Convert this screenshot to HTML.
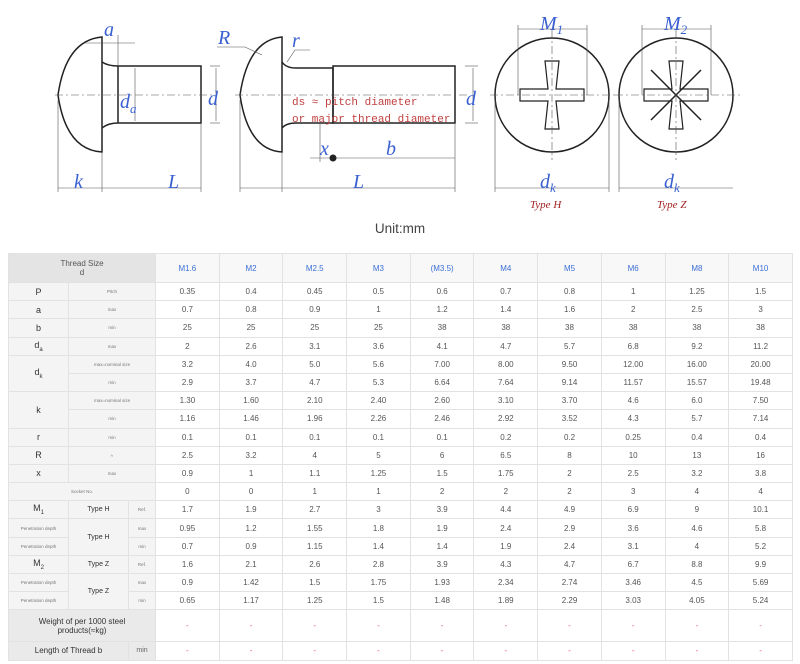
<!DOCTYPE html>
<html><head><meta charset="utf-8"><style>
body{margin:0;width:800px;height:664px;background:#fff;position:relative;overflow:hidden;font-family:"Liberation Sans",sans-serif}
svg{position:absolute;left:0;top:0}
.unit{position:absolute;top:221px;left:0;width:800px;text-align:center;font-size:13.5px;color:#444}
table{position:absolute;left:8px;top:253px;border-collapse:collapse;table-layout:fixed;width:784px;font-size:8px;color:#555}
tr{height:18.2px}
td{border:1px solid #e2e2e2;text-align:center;padding:0;white-space:nowrap;overflow:hidden}
td.l{background:#f4f4f4;color:#333;font-size:9px}
td.s{background:#f4f4f4;font-size:4.5px;color:#777}
td.h{background:#e4e4e4;color:#555;font-size:8px}
td.c{color:#3b6fd6;background:#f8f8f8;font-size:8px}
td.g{background:#eaeaea;color:#333;font-size:9px}
td.r{color:#e06070}
sub{font-size:6px}
</style></head><body>
<svg width="800" height="220" viewBox="0 0 800 220" font-family="Liberation Serif,serif">
<g fill="none" stroke="#222" stroke-width="1.5">
<path d="M102 37 Q66 40 58 95 Q66 150 102 152 Z"/>
<path d="M102 62 Q108 66 118 66 L201 66 L201 123 L118 123 Q108 123 102 128"/>
<line x1="118" y1="66" x2="118" y2="123"/>
<path d="M282 37 Q248 40 240 95 Q248 150 282 152 Z"/>
<path d="M282 62 Q286 68 296 68 L333 68 L333 123 L296 123 Q286 123 282 128"/>
<rect x="333" y="66" width="122" height="57"/>
<circle cx="552" cy="95" r="57"/><circle cx="676" cy="95" r="57"/>
<path d="M545 61 h14 l-3 28 h28 v12 h-28 l3 28 h-14 l3 -28 h-28 v-12 h28z" stroke-width="1.2"/>
<path d="M669 61 h14 l-3 28 h28 v12 h-28 l3 28 h-14 l3 -28 h-28 v-12 h28z" stroke-width="1.2"/>
</g>
<g stroke="#222" stroke-width="1.5"><line x1="651" y1="70" x2="701" y2="120"/><line x1="701" y1="70" x2="651" y2="120"/></g>
<g stroke="#555" stroke-width="0.6" stroke-dasharray="8 3 2 3">
<line x1="55" y1="95" x2="215" y2="95"/><line x1="235" y1="95" x2="470" y2="95"/>
<line x1="490" y1="95" x2="615" y2="95"/><line x1="615" y1="95" x2="740" y2="95"/>
<line x1="552" y1="30" x2="552" y2="160"/><line x1="676" y1="30" x2="676" y2="160"/>
</g>
<g stroke="#555" stroke-width="0.6" fill="none">
<line x1="58" y1="100" x2="58" y2="192"/><line x1="102" y1="152" x2="102" y2="192"/><line x1="201" y1="123" x2="201" y2="192"/>
<line x1="58" y1="188" x2="201" y2="188"/><line x1="240" y1="100" x2="240" y2="192"/><line x1="282" y1="152" x2="282" y2="192"/><line x1="455" y1="123" x2="455" y2="192"/>
<line x1="240" y1="188" x2="455" y2="188"/><line x1="310" y1="158" x2="455" y2="158"/><line x1="320" y1="123" x2="320" y2="162"/>
<line x1="210" y1="66" x2="220" y2="66"/><line x1="210" y1="123" x2="220" y2="123"/><line x1="216" y1="68" x2="216" y2="121"/>
<line x1="465" y1="66" x2="478" y2="66"/><line x1="465" y1="123" x2="478" y2="123"/><line x1="473" y1="68" x2="473" y2="121"/>
<line x1="118" y1="35" x2="118" y2="66"/><line x1="85" y1="43" x2="135" y2="43"/><line x1="135" y1="68" x2="135" y2="121"/>
<line x1="518" y1="25" x2="518" y2="95"/><line x1="587" y1="25" x2="587" y2="95"/><line x1="518" y1="29" x2="587" y2="29"/>
<line x1="642" y1="25" x2="642" y2="95"/><line x1="711" y1="25" x2="711" y2="95"/><line x1="642" y1="29" x2="711" y2="29"/>
<line x1="495" y1="100" x2="495" y2="192"/><line x1="609" y1="100" x2="609" y2="192"/><line x1="495" y1="188" x2="609" y2="188"/>
<line x1="619" y1="100" x2="619" y2="192"/><line x1="619" y1="188" x2="733" y2="188"/>
<path d="M217 47 L245 47 L262 55"/><path d="M287 62 L295 50 L310 50"/>
</g>
<circle cx="333" cy="158" r="3.5" fill="#222"/>
<g fill="#3a5fd0" font-style="italic" font-size="20">
<text x="104" y="36">a</text><text x="120" y="108">d<tspan font-size="13" dy="5">a</tspan></text>
<text x="208" y="105">d</text><text x="74" y="188">k</text><text x="168" y="188">L</text>
<text x="218" y="44">R</text><text x="292" y="47">r</text><text x="466" y="105">d</text>
<text x="320" y="155">x</text><text x="386" y="155">b</text><text x="353" y="188">L</text>
<text x="540" y="30">M<tspan font-size="13" dy="4">1</tspan></text><text x="664" y="30">M<tspan font-size="13" dy="4">2</tspan></text>
<text x="540" y="188">d<tspan font-size="13" dy="4">k</tspan></text><text x="664" y="188">d<tspan font-size="13" dy="4">k</tspan></text>
</g>
<g fill="#c04040" font-family="Liberation Mono,monospace" font-size="11">
<text x="292" y="105">ds ≈ pitch diameter</text><text x="292" y="122">or major thread diameter</text></g>
<g fill="#a02020" font-style="italic" font-size="11"><text x="530" y="208">Type H</text><text x="657" y="208">Type Z</text></g>
</svg>
<div class="unit">Unit:mm</div>
<table>
<colgroup><col style="width:60px"><col style="width:60px"><col style="width:27px"><col span="10" style="width:63.7px"></colgroup>
<tr style="height:29px"><td class="h" colspan="3">Thread Size<br>d</td><td class="c">M1.6</td><td class="c">M2</td><td class="c">M2.5</td><td class="c">M3</td><td class="c">(M3.5)</td><td class="c">M4</td><td class="c">M5</td><td class="c">M6</td><td class="c">M8</td><td class="c">M10</td></tr>
<tr><td class="l">P</td><td class="s" colspan="2">Pitch</td><td>0.35</td><td>0.4</td><td>0.45</td><td>0.5</td><td>0.6</td><td>0.7</td><td>0.8</td><td>1</td><td>1.25</td><td>1.5</td></tr>
<tr><td class="l">a</td><td class="s" colspan="2">max</td><td>0.7</td><td>0.8</td><td>0.9</td><td>1</td><td>1.2</td><td>1.4</td><td>1.6</td><td>2</td><td>2.5</td><td>3</td></tr>
<tr><td class="l">b</td><td class="s" colspan="2">min</td><td>25</td><td>25</td><td>25</td><td>25</td><td>38</td><td>38</td><td>38</td><td>38</td><td>38</td><td>38</td></tr>
<tr><td class="l">d<sub>a</sub></td><td class="s" colspan="2">max</td><td>2</td><td>2.6</td><td>3.1</td><td>3.6</td><td>4.1</td><td>4.7</td><td>5.7</td><td>6.8</td><td>9.2</td><td>11.2</td></tr>
<tr><td class="l" rowspan="2">d<sub>k</sub></td><td class="s" colspan="2">max=nominal size</td><td>3.2</td><td>4.0</td><td>5.0</td><td>5.6</td><td>7.00</td><td>8.00</td><td>9.50</td><td>12.00</td><td>16.00</td><td>20.00</td></tr>
<tr><td class="s" colspan="2">min</td><td>2.9</td><td>3.7</td><td>4.7</td><td>5.3</td><td>6.64</td><td>7.64</td><td>9.14</td><td>11.57</td><td>15.57</td><td>19.48</td></tr>
<tr><td class="l" rowspan="2">k</td><td class="s" colspan="2">max=nominal size</td><td>1.30</td><td>1.60</td><td>2.10</td><td>2.40</td><td>2.60</td><td>3.10</td><td>3.70</td><td>4.6</td><td>6.0</td><td>7.50</td></tr>
<tr><td class="s" colspan="2">min</td><td>1.16</td><td>1.46</td><td>1.96</td><td>2.26</td><td>2.46</td><td>2.92</td><td>3.52</td><td>4.3</td><td>5.7</td><td>7.14</td></tr>
<tr><td class="l">r</td><td class="s" colspan="2">min</td><td>0.1</td><td>0.1</td><td>0.1</td><td>0.1</td><td>0.1</td><td>0.2</td><td>0.2</td><td>0.25</td><td>0.4</td><td>0.4</td></tr>
<tr><td class="l">R</td><td class="s" colspan="2">≈</td><td>2.5</td><td>3.2</td><td>4</td><td>5</td><td>6</td><td>6.5</td><td>8</td><td>10</td><td>13</td><td>16</td></tr>
<tr><td class="l">x</td><td class="s" colspan="2">max</td><td>0.9</td><td>1</td><td>1.1</td><td>1.25</td><td>1.5</td><td>1.75</td><td>2</td><td>2.5</td><td>3.2</td><td>3.8</td></tr>
<tr><td class="s" colspan="3">Socket No.</td><td>0</td><td>0</td><td>1</td><td>1</td><td>2</td><td>2</td><td>2</td><td>3</td><td>4</td><td>4</td></tr>
<tr><td class="l">M<sub>1</sub></td><td class="l" style="font-size:7px">Type H</td><td class="s">Ref.</td><td>1.7</td><td>1.9</td><td>2.7</td><td>3</td><td>3.9</td><td>4.4</td><td>4.9</td><td>6.9</td><td>9</td><td>10.1</td></tr>
<tr><td class="s">Penetration depth</td><td class="l" rowspan="2" style="font-size:7px">Type H</td><td class="s">max</td><td>0.95</td><td>1.2</td><td>1.55</td><td>1.8</td><td>1.9</td><td>2.4</td><td>2.9</td><td>3.6</td><td>4.6</td><td>5.8</td></tr>
<tr><td class="s">Penetration depth</td><td class="s">min</td><td>0.7</td><td>0.9</td><td>1.15</td><td>1.4</td><td>1.4</td><td>1.9</td><td>2.4</td><td>3.1</td><td>4</td><td>5.2</td></tr>
<tr><td class="l">M<sub>2</sub></td><td class="l" style="font-size:7px">Type Z</td><td class="s">Ref.</td><td>1.6</td><td>2.1</td><td>2.6</td><td>2.8</td><td>3.9</td><td>4.3</td><td>4.7</td><td>6.7</td><td>8.8</td><td>9.9</td></tr>
<tr><td class="s">Penetration depth</td><td class="l" rowspan="2" style="font-size:7px">Type Z</td><td class="s">max</td><td>0.9</td><td>1.42</td><td>1.5</td><td>1.75</td><td>1.93</td><td>2.34</td><td>2.74</td><td>3.46</td><td>4.5</td><td>5.69</td></tr>
<tr><td class="s">Penetration depth</td><td class="s">min</td><td>0.65</td><td>1.17</td><td>1.25</td><td>1.5</td><td>1.48</td><td>1.89</td><td>2.29</td><td>3.03</td><td>4.05</td><td>5.24</td></tr>
<tr style="height:32px"><td class="g" colspan="3" style="white-space:normal;font-size:8px">Weight of per 1000 steel<br>products(≈kg)</td><td class="r">-</td><td class="r">-</td><td class="r">-</td><td class="r">-</td><td class="r">-</td><td class="r">-</td><td class="r">-</td><td class="r">-</td><td class="r">-</td><td class="r">-</td></tr>
<tr><td class="g" colspan="2" style="font-size:8px">Length of Thread b</td><td class="g" style="font-size:7px;color:#666">min</td><td class="r">-</td><td class="r">-</td><td class="r">-</td><td class="r">-</td><td class="r">-</td><td class="r">-</td><td class="r">-</td><td class="r">-</td><td class="r">-</td><td class="r">-</td></tr>
</table>
</body></html>
